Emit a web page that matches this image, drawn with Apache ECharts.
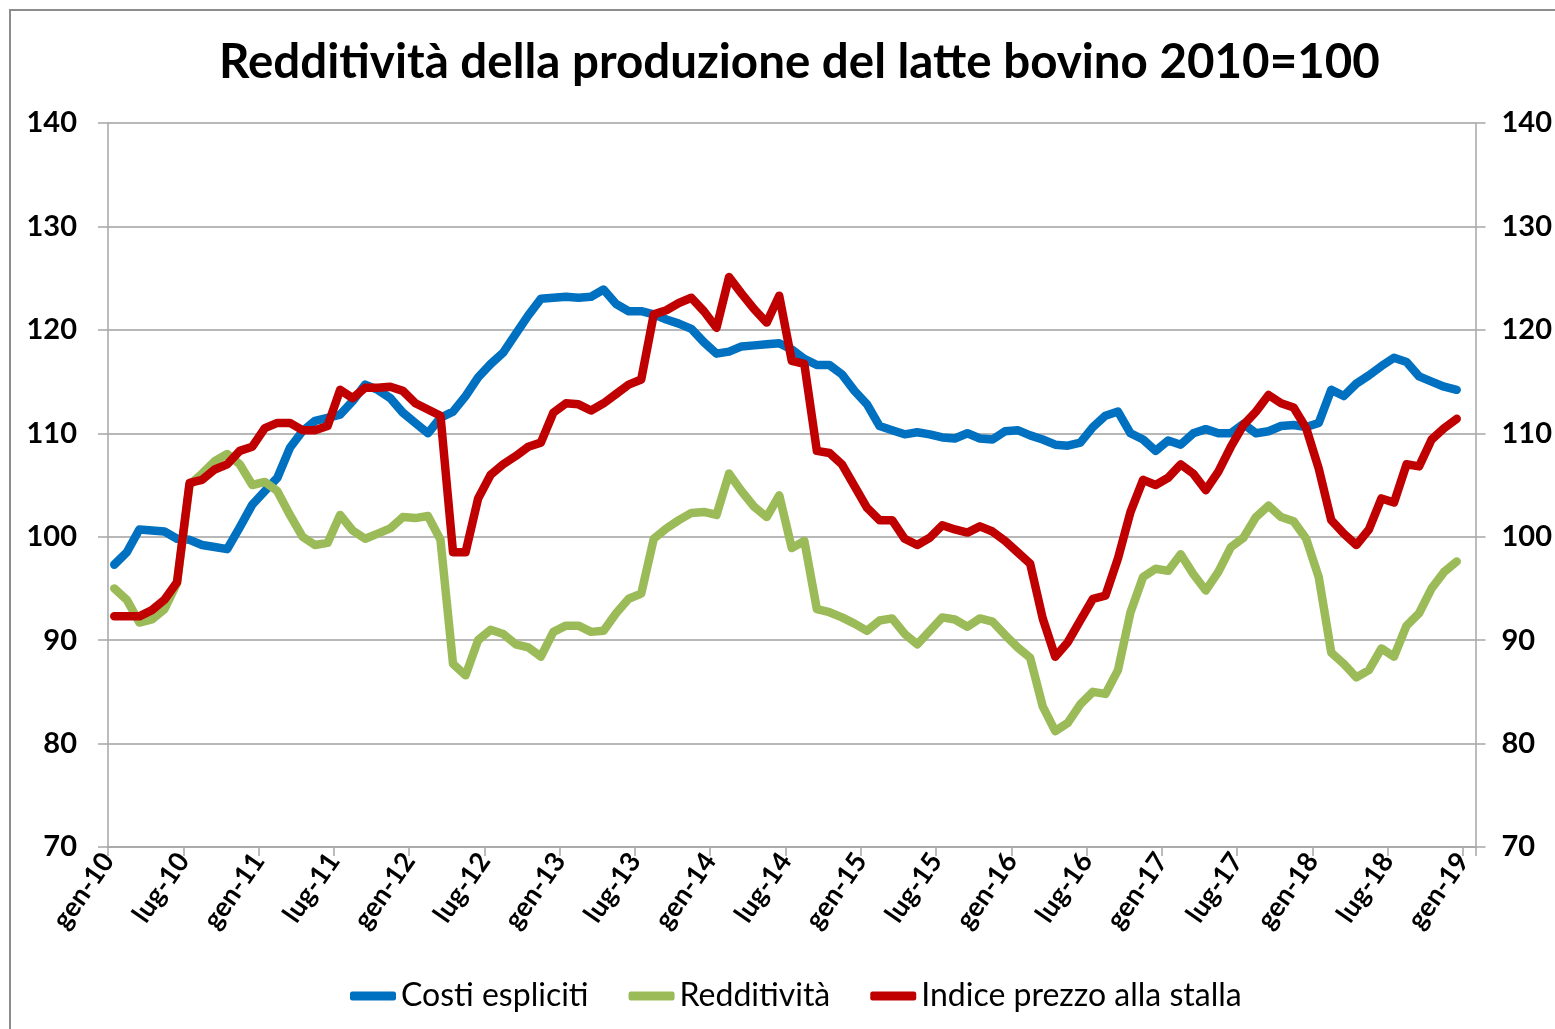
<!DOCTYPE html>
<html>
<head>
<meta charset="utf-8">
<title>Redditività della produzione del latte bovino</title>
<script src="https://cdn.jsdelivr.net/npm/echarts@6/dist/echarts.min.js"></script>
<style>
  html, body { margin: 0; padding: 0; background: #fff; }
  #chart { width: 1555px; height: 1029px; }
</style>
</head>
<body>
<div id="chart"></div>
<script>
// etichette ogni 6 mesi (gen-10 ... gen-19)
const tickLabels = ['gen-10', 'lug-10', 'gen-11', 'lug-11', 'gen-12', 'lug-12', 'gen-13', 'lug-13',
  'gen-14', 'lug-14', 'gen-15', 'lug-15', 'gen-16', 'lug-16', 'gen-17', 'lug-17', 'gen-18', 'lug-18', 'gen-19'];

// valori mensili gen-10 ... dic-18 (indice 2010=100)
const costi = [
  97.3, 98.5, 100.7, 100.6, 100.5, 99.8, 99.7, 99.2, 99.0, 98.8, 100.9, 103.1,
  104.4, 105.7, 108.6, 110.2, 111.2, 111.5, 111.8, 113.1, 114.7, 114.2, 113.4, 112.0,
  111.0, 110.0, 111.5, 112.1, 113.6, 115.4, 116.7, 117.8, 119.6, 121.4, 123.0, 123.1,
  123.2, 123.1, 123.2, 123.9, 122.5, 121.8, 121.8, 121.5, 121.0, 120.6, 120.1, 118.8,
  117.7, 117.9, 118.4, 118.5, 118.6, 118.7, 118.1, 117.2, 116.6, 116.6, 115.7, 114.1,
  112.8, 110.7, 110.3, 109.9, 110.1, 109.9, 109.6, 109.5, 110.0, 109.5, 109.4, 110.2,
  110.3, 109.8, 109.4, 108.9, 108.8, 109.1, 110.6, 111.7, 112.1, 110.0, 109.4, 108.3,
  109.3, 108.9, 110.0, 110.4, 110.0, 110.0, 110.9, 110.0, 110.2, 110.7, 110.8, 110.6,
  111.0, 114.2, 113.6, 114.8, 115.6, 116.5, 117.3, 116.9, 115.5, 115.0, 114.5, 114.2
];
const redditivita = [
  95.0, 93.9, 91.7, 92.0, 93.0, 95.5, 105.0, 106.1, 107.3, 108.0, 107.0, 105.0,
  105.3, 104.4, 102.1, 100.0, 99.2, 99.4, 102.1, 100.6, 99.8, 100.3, 100.8, 101.9,
  101.8, 102.0, 99.7, 87.7, 86.6, 90.0, 91.0, 90.6, 89.6, 89.3, 88.4, 90.8,
  91.4, 91.4, 90.8, 90.9, 92.6, 94.0, 94.5, 99.8, 100.8, 101.6, 102.3, 102.4,
  102.1, 106.1, 104.4, 102.9, 101.9, 104.0, 98.9, 99.6, 93.0, 92.7, 92.2, 91.6,
  90.9, 91.9, 92.1, 90.6, 89.6, 90.9, 92.2, 92.0, 91.3, 92.1, 91.8, 90.5,
  89.3, 88.3, 83.6, 81.2, 82.0, 83.8, 85.0, 84.8, 87.1, 92.7, 96.1, 96.9,
  96.7, 98.3, 96.4, 94.8, 96.6, 99.0, 99.9, 101.9, 103.0, 101.9, 101.5, 99.8,
  96.1, 88.8, 87.7, 86.4, 87.1, 89.2, 88.4, 91.4, 92.6, 95.0, 96.6, 97.6
];
const prezzoStalla = [
  92.3, 92.3, 92.3, 92.9, 93.9, 95.6, 105.2, 105.5, 106.5, 107.0, 108.3, 108.7,
  110.5, 111.0, 111.0, 110.3, 110.3, 110.7, 114.2, 113.4, 114.4, 114.4, 114.5, 114.1,
  112.9, 112.3, 111.7, 98.5, 98.5, 103.7, 106.0, 107.0, 107.8, 108.7, 109.1, 112.0,
  112.9, 112.8, 112.2, 112.9, 113.8, 114.7, 115.2, 121.5, 121.9, 122.6, 123.1, 121.8,
  120.2, 125.1, 123.5, 122.0, 120.7, 123.3, 117.0, 116.7, 108.3, 108.1, 107.0, 104.9,
  102.8, 101.6, 101.6, 99.8, 99.2, 99.9, 101.1, 100.7, 100.4, 101.0, 100.5, 99.6,
  98.5, 97.4, 92.1, 88.4, 89.8, 91.9, 94.0, 94.3, 97.9, 102.4, 105.5, 105.0,
  105.7, 107.0, 106.1, 104.5, 106.3, 108.7, 110.8, 112.1, 113.7, 112.9, 112.5, 110.5,
  106.6, 101.6, 100.3, 99.2, 100.7, 103.7, 103.3, 107.0, 106.8, 109.4, 110.5, 111.4
];

const seriesNames = ['Costi espliciti', 'Redditività', 'Indice prezzo alla stalla'];
const seriesColors = ['#0070C0', '#9BBB59', '#C00000'];

const FONT = 'Lato';
const axisGray = '#a6a6a6';

// ogni mese sta al centro del suo intervallo (asse a date di Excel)
function toPoints(values) {
  return values.map((v, i) => [i + 0.5, v]);
}

function yAxis(position, margin) {
  return {
    type: 'value',
    position: position,
    min: 70,
    max: 140,
    interval: 10,
    axisLine: { show: true, lineStyle: { color: axisGray, width: 1.5 } },
    axisTick: { show: true, length: 10, lineStyle: { color: axisGray, width: 1.5 } },
    splitLine: { show: position === 'left', lineStyle: { color: '#b8b8b8', width: 2 } },
    axisLabel: { margin: margin, color: '#000', fontFamily: FONT, fontWeight: 'bold', fontSize: 29 }
  };
}

const myChart = echarts.init(document.getElementById('chart'));
myChart.setOption({
  animation: false,
  backgroundColor: '#fff',
  title: {
    text: 'Redditività della produzione del latte bovino 2010=100',
    left: 214,
    top: 34,
    textStyle: { fontFamily: FONT, fontWeight: 'bold', fontSize: 47.5, color: '#000' }
  },
  graphic: [
    {
      type: 'rect',
      shape: { x: 10, y: 10, width: 1600, height: 1100 },
      style: { fill: 'none', stroke: '#8c8c8c', lineWidth: 2 },
      silent: true
    }
  ],
  legend: {
    left: 345,
    top: 975,
    icon: 'roundRect',
    itemWidth: 46,
    itemHeight: 9,
    itemGap: 40,
    data: seriesNames,
    textStyle: { fontFamily: FONT, fontSize: 32, color: '#000' }
  },
  grid: { left: 108, right: 76, top: 123, bottom: 182 },
  xAxis: {
    type: 'value',
    min: 0,
    max: 109,
    interval: 6,
    axisLine: { show: true, lineStyle: { color: axisGray, width: 1.5 } },
    axisTick: { show: true, length: 9, lineStyle: { color: axisGray, width: 1.5 } },
    splitLine: { show: false },
    axisLabel: {
      rotate: 55,
      margin: 9,
      color: '#000',
      fontFamily: FONT,
      fontWeight: 'bold',
      fontSize: 27,
      formatter: function (v) {
        return v % 6 === 0 ? tickLabels[v / 6] : '';
      }
    }
  },
  yAxis: [yAxis('left', 31), yAxis('right', 26)],
  series: [costi, redditivita, prezzoStalla].map((values, k) => ({
    name: seriesNames[k],
    type: 'line',
    data: toPoints(values),
    showSymbol: false,
    symbol: 'none',
    color: seriesColors[k],
    lineStyle: { width: 8.5, color: seriesColors[k], cap: 'round', join: 'round' }
  }))
});
</script>
</body>
</html>
